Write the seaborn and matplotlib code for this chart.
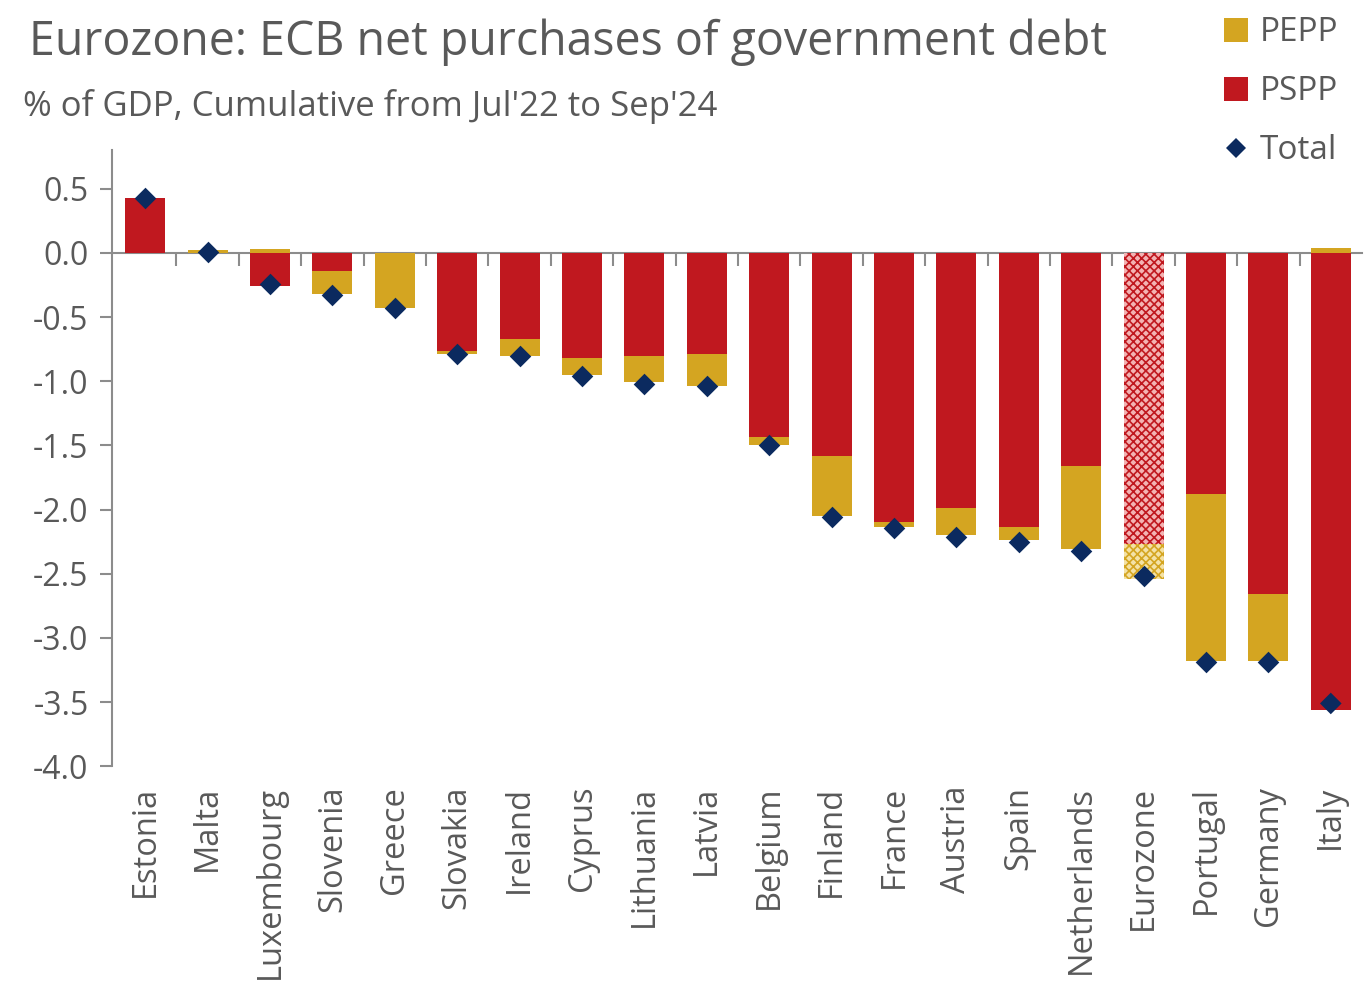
import matplotlib
matplotlib.use("Agg")
import matplotlib.pyplot as plt
from matplotlib.lines import Line2D
import seaborn as sns
import numpy as np

countries = ["Estonia", "Malta", "Luxembourg", "Slovenia", "Greece", "Slovakia",
             "Ireland", "Cyprus", "Lithuania", "Latvia", "Belgium", "Finland",
             "France", "Austria", "Spain", "Netherlands", "Eurozone", "Portugal",
             "Germany", "Italy"]
pspp = [0.43, 0.0, -0.26, -0.14, 0.0, -0.765, -0.67, -0.82, -0.80, -0.79,
        -1.435, -1.585, -2.10, -1.99, -2.135, -1.66, -2.27, -1.88, -2.66, -3.56]
pepp = [0.0, 0.02, 0.03, -0.18, -0.43, -0.02, -0.13, -0.135, -0.21, -0.245,
        -0.065, -0.465, -0.035, -0.21, -0.105, -0.65, -0.27, -1.30, -0.52, 0.035]
total = [0.43, 0.01, -0.24, -0.33, -0.43, -0.79, -0.80, -0.96, -1.02, -1.04,
         -1.50, -2.06, -2.14, -2.21, -2.25, -2.32, -2.52, -3.19, -3.19, -3.51]
y_ticks = [0.5, 0.0, -0.5, -1.0, -1.5, -2.0, -2.5, -3.0, -3.5, -4.0]

RED = "#C0181F"
GOLD = "#D4A521"
NAVY = "#0B2A5F"
GRAY = "#595959"
AXIS = "#8C8C8C"

sns.set_theme(style="white")
plt.rcParams["font.family"] = ["Open Sans", "DejaVu Sans"]
plt.rcParams["hatch.linewidth"] = 1.2

fig = plt.figure(figsize=(13.68, 9.94), dpi=100)
ax = fig.add_axes([0.082, 0.229, 0.9136, 0.620])

# stacked extent: PEPP stacks on the same side as its sign
gold_h = [pe if pe > 0 else min(ps, 0) + pe for ps, pe in zip(pspp, pepp)]

sns.barplot(x=countries, y=gold_h, color=GOLD, saturation=1, width=0.64,
            linewidth=0, ax=ax)
sns.barplot(x=countries, y=pspp, color=RED, saturation=1, width=0.64,
            linewidth=0, ax=ax)

ez = countries.index("Eurozone")
gpatch = ax.containers[0][ez]
gpatch.set_facecolor("#F4E2A6")
gpatch.set_edgecolor(GOLD)
gpatch.set_hatch("xxxx")
rpatch = ax.containers[1][ez]
rpatch.set_facecolor("#F3B3B3")
rpatch.set_edgecolor(RED)
rpatch.set_hatch("xxxx")

sns.stripplot(x=countries, y=total, jitter=False, marker="D", size=11,
              color=NAVY, linewidth=0, ax=ax, zorder=5)
coll = ax.collections[-1]
fcs = [NAVY] * len(countries)
fcs[ez] = "#5F7FBF"
coll.set_facecolor(fcs)
ecs = [NAVY] * len(countries)
ecs[ez] = "white"
coll.set_edgecolor(ecs)
coll.set_linewidth([0] * ez + [1.2] + [0] * (len(countries) - ez - 1))

ax.set_xlim(-0.53, len(countries) - 0.5)
ax.set_ylim(-4.0, 0.8)
ax.set_yticks(y_ticks)
ax.set_yticklabels([f"{v:.1f}" for v in y_ticks])
ax.set_xlabel("")
ax.set_ylabel("")

for s in ["top", "right", "bottom"]:
    ax.spines[s].set_visible(False)
ax.spines["left"].set_color(AXIS)
ax.spines["left"].set_linewidth(1.5)
ax.spines["left"].set_bounds(-4.0, 0.8)

ax.tick_params(axis="y", direction="out", length=9, width=1.5, color=AXIS,
               labelsize=23, labelcolor=GRAY, pad=8, left=True)
ax.tick_params(axis="x", length=0, labelsize=23.5, labelcolor=GRAY, pad=14,
               rotation=90)

# zero axis with category-boundary ticks
sec = ax.secondary_xaxis(0, transform=ax.transData)
sec.set_xticks(np.arange(0.5, len(countries) - 0.5, 1.0))
sec.set_xticklabels([])
sec.tick_params(axis="x", direction="out", length=9, width=1.5, color=AXIS)
sec.spines["bottom"].set_color(AXIS)
sec.spines["bottom"].set_linewidth(1.5)

fig.text(0.021, 0.957, "Eurozone: ECB net purchases of government debt",
         fontsize=33.5, color=GRAY, ha="left", va="center")
fig.text(0.017, 0.893, "% of GDP, Cumulative from Jul'22 to Sep'24",
         fontsize=25, color=GRAY, ha="left", va="center")

handles = [
    Line2D([], [], linestyle="none", marker="s", markersize=17,
           markerfacecolor=GOLD, markeredgewidth=0),
    Line2D([], [], linestyle="none", marker="s", markersize=17,
           markerfacecolor=RED, markeredgewidth=0),
    Line2D([], [], linestyle="none", marker="D", markersize=10,
           markerfacecolor=NAVY, markeredgewidth=0),
]
leg = fig.legend(handles, ["PEPP", "PSPP", "Total"], loc="upper right",
                 bbox_to_anchor=(0.995, 1.007), frameon=False, fontsize=24,
                 labelcolor=GRAY, handletextpad=0.2, labelspacing=0.78,
                 handlelength=1.0, borderaxespad=0.3)

fig.savefig("out.png", dpi=100, facecolor="white")
